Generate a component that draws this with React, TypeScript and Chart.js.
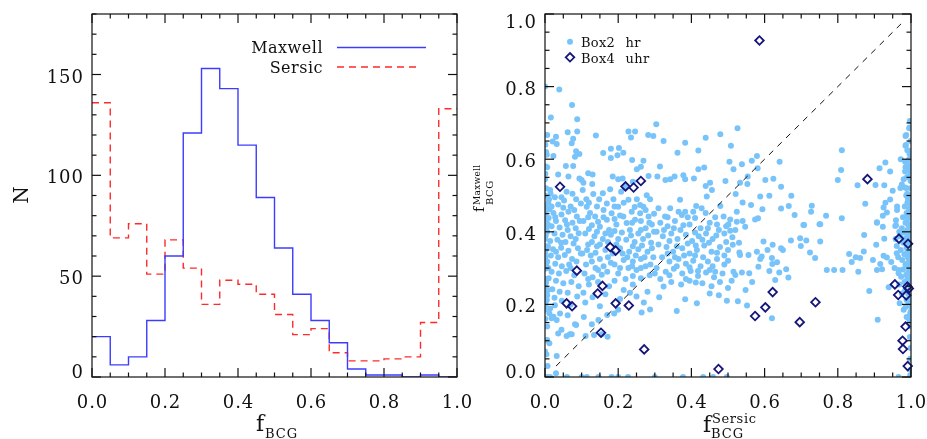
import React, { useEffect, useRef } from 'react';
import { Chart, registerables } from 'chart.js';

Chart.register(...registerables);

// ---------------- Left panel: histogram ----------------
const binEdges = [0, 0.05, 0.1, 0.15, 0.2, 0.25, 0.3, 0.35, 0.4, 0.45, 0.5, 0.55, 0.6, 0.65, 0.7, 0.75, 0.8, 0.85, 0.9, 0.95, 1.0];
const maxwellCounts = [20, 6, 10, 28, 60, 121, 153, 143, 115, 89, 64, 41, 28, 17, 4, 1, 1, 0, 1, 0];
const sersicCounts = [136, 69, 76, 51, 68, 54, 36, 48, 46, 41, 31, 21, 24, 12, 8, 8, 9, 10, 27, 133];

const leftXTicks = [0, 0.2, 0.4, 0.6, 0.8, 1.0];
const leftXLabels = ['0.0', '0.2', '0.4', '0.6', '0.8', '1.0'];
const leftYTicks = [0, 50, 100, 150];
const leftYLabels = ['0', '50', '100', '150'];
const leftYMax = 180;

// ---------------- Right panel: scatter ----------------
const rightXTicks = [0, 0.2, 0.4, 0.6, 0.8, 1.0];
const rightXLabels = ['0.0', '0.2', '0.4', '0.6', '0.8', '1.0'];
const rightYTicks = [0, 0.2, 0.4, 0.6, 0.8, 1.0];
const rightYLabels = ['0.0', '0.2', '0.4', '0.6', '0.8', '1.0'];

const oneToOne: [number, number][] = [[0.03, 0.03], [0.98, 0.98]];

const box2hrLeft: [number, number][] = [
  [0.000, 0.800], [0.039, 0.792], [0.074, 0.749], [0.016, 0.715], [0.088, 0.710],
  [0.006, 0.667], [0.030, 0.662], [0.062, 0.674], [0.088, 0.676], [0.077, 0.656],
  [0.021, 0.649], [0.032, 0.642], [0.073, 0.644], [0.005, 0.612], [0.023, 0.609],
  [0.085, 0.622], [0.094, 0.614], [0.082, 0.607], [0.006, 0.578], [0.057, 0.581],
  [0.077, 0.581], [0.036, 0.558], [0.064, 0.552], [0.094, 0.547], [0.000, 0.545],
  [0.014, 0.515], [0.027, 0.495], [0.011, 0.490], [0.059, 0.510], [0.052, 0.486],
  [0.000, 0.500], [0.018, 0.470], [0.036, 0.475], [0.070, 0.470], [0.085, 0.490],
  [0.002, 0.455], [0.023, 0.452], [0.045, 0.448], [0.064, 0.455], [0.087, 0.442],
  [0.010, 0.438], [0.030, 0.430], [0.055, 0.432], [0.075, 0.425], [0.095, 0.430],
  [0.000, 0.420], [0.018, 0.415], [0.040, 0.412], [0.062, 0.405], [0.084, 0.410],
  [0.006, 0.400], [0.026, 0.395], [0.048, 0.392], [0.070, 0.388], [0.092, 0.396],
  [0.000, 0.380], [0.014, 0.375], [0.034, 0.378], [0.056, 0.372], [0.078, 0.368],
  [0.008, 0.360], [0.022, 0.352], [0.044, 0.356], [0.064, 0.348], [0.090, 0.355],
  [0.000, 0.340], [0.016, 0.335], [0.036, 0.330], [0.054, 0.336], [0.074, 0.325],
  [0.006, 0.318], [0.028, 0.312], [0.046, 0.305], [0.066, 0.310], [0.086, 0.318],
  [0.000, 0.298], [0.018, 0.290], [0.038, 0.285], [0.058, 0.292], [0.080, 0.280],
  [0.010, 0.272], [0.030, 0.265], [0.050, 0.258], [0.072, 0.262], [0.092, 0.250],
  [0.000, 0.250], [0.020, 0.242], [0.040, 0.235], [0.062, 0.232], [0.088, 0.222],
  [0.006, 0.225], [0.026, 0.218], [0.046, 0.210], [0.005, 0.212], [0.027, 0.198],
  [0.014, 0.189], [0.041, 0.175], [0.032, 0.157], [0.018, 0.162], [0.006, 0.139],
  [0.000, 0.185], [0.012, 0.175], [0.070, 0.200], [0.085, 0.143], [0.062, 0.170],
  [0.002, 0.470], [0.004, 0.430], [0.001, 0.360], [0.003, 0.310], [0.002, 0.270],
  [0.004, 0.235], [0.001, 0.560], [0.003, 0.620], [0.002, 0.390], [0.001, 0.330],
  [0.012, 0.462], [0.050, 0.466], [0.080, 0.460], [0.028, 0.440], [0.060, 0.420],
  [0.044, 0.370], [0.084, 0.380], [0.030, 0.345], [0.098, 0.340], [0.070, 0.300],
  [0.015, 0.505], [0.045, 0.495], [0.075, 0.505], [0.098, 0.478],
  [0.001, 0.445], [0.003, 0.410], [0.002, 0.350], [0.001, 0.300], [0.003, 0.260],
  [0.002, 0.200], [0.001, 0.160], [0.003, 0.520], [0.002, 0.580], [0.001, 0.640],
  [0.008, 0.240], [0.009, 0.300], [0.008, 0.420], [0.009, 0.480],
];

const box2hrInner: [number, number][] = [
  [0.139, 0.665], [0.159, 0.617], [0.180, 0.629], [0.202, 0.631], [0.180, 0.603],
  [0.198, 0.611], [0.214, 0.618], [0.228, 0.676], [0.246, 0.676], [0.235, 0.660],
  [0.282, 0.667], [0.296, 0.664], [0.238, 0.598], [0.269, 0.596], [0.262, 0.579],
  [0.251, 0.572], [0.118, 0.561], [0.130, 0.558], [0.185, 0.552], [0.200, 0.545],
  [0.212, 0.547], [0.240, 0.538], [0.283, 0.554], [0.100, 0.543], [0.105, 0.535],
  [0.129, 0.532], [0.221, 0.526], [0.103, 0.515], [0.132, 0.504], [0.158, 0.506],
  [0.178, 0.517], [0.208, 0.510], [0.278, 0.501], [0.148, 0.490], [0.169, 0.478],
  [0.187, 0.490], [0.228, 0.488], [0.251, 0.490], [0.287, 0.490], [0.260, 0.474],
  [0.113, 0.490],
  [0.114, 0.469], [0.123, 0.452], [0.137, 0.442], [0.160, 0.460], [0.169, 0.433],
  [0.182, 0.451], [0.200, 0.469], [0.214, 0.442], [0.223, 0.424], [0.237, 0.455],
  [0.246, 0.433], [0.260, 0.451], [0.269, 0.469], [0.283, 0.442], [0.292, 0.420],
  [0.105, 0.430], [0.128, 0.418], [0.150, 0.414], [0.175, 0.405], [0.195, 0.420],
  [0.210, 0.398], [0.232, 0.405], [0.255, 0.395], [0.275, 0.410], [0.298, 0.400],
  [0.110, 0.395], [0.135, 0.388], [0.158, 0.380], [0.180, 0.392], [0.222, 0.378],
  [0.245, 0.372], [0.268, 0.380], [0.290, 0.370], [0.118, 0.365], [0.142, 0.360],
  [0.165, 0.350], [0.205, 0.355], [0.230, 0.345], [0.255, 0.352], [0.280, 0.345],
  [0.102, 0.340], [0.125, 0.335], [0.150, 0.325], [0.172, 0.330], [0.215, 0.322],
  [0.240, 0.318], [0.262, 0.325], [0.296, 0.330], [0.112, 0.310], [0.138, 0.300],
  [0.160, 0.305], [0.190, 0.310], [0.228, 0.300], [0.250, 0.295], [0.275, 0.305],
  [0.108, 0.285], [0.130, 0.275], [0.155, 0.282], [0.200, 0.285], [0.220, 0.270],
  [0.262, 0.272], [0.286, 0.280],
  [0.120, 0.255], [0.145, 0.262], [0.175, 0.250], [0.215, 0.240], [0.240, 0.255],
  [0.105, 0.232], [0.130, 0.220], [0.165, 0.228], [0.250, 0.222], [0.280, 0.235],
  [0.110, 0.205], [0.150, 0.195], [0.205, 0.215], [0.270, 0.205], [0.264, 0.178],
  [0.287, 0.186], [0.189, 0.175], [0.170, 0.171], [0.146, 0.157], [0.111, 0.113],
  [0.134, 0.116], [0.155, 0.118], [0.171, 0.111], [0.200, 0.185], [0.232, 0.232],
  [0.128, 0.145], [0.106, 0.165],
  [0.120, 0.480], [0.142, 0.470], [0.190, 0.470], [0.215, 0.480], [0.245, 0.468],
  [0.275, 0.460], [0.298, 0.450], [0.118, 0.440], [0.145, 0.428], [0.160, 0.440],
  [0.190, 0.435], [0.205, 0.445], [0.238, 0.425], [0.262, 0.430], [0.285, 0.425],
  [0.120, 0.408], [0.142, 0.400], [0.165, 0.395], [0.190, 0.402], [0.200, 0.380],
  [0.235, 0.390], [0.262, 0.405], [0.282, 0.390], [0.128, 0.372], [0.150, 0.365],
  [0.172, 0.372], [0.195, 0.365], [0.212, 0.340], [0.240, 0.360], [0.265, 0.362],
  [0.292, 0.355], [0.115, 0.350], [0.138, 0.342], [0.185, 0.340], [0.225, 0.330],
  [0.248, 0.335], [0.272, 0.330], [0.128, 0.318], [0.180, 0.315], [0.205, 0.300],
  [0.238, 0.305], [0.262, 0.300], [0.288, 0.310], [0.145, 0.295], [0.170, 0.290],
  [0.118, 0.270], [0.190, 0.265], [0.240, 0.278], [0.300, 0.285],
];

const box2hrCentre: [number, number][] = [
  [0.304, 0.696], [0.324, 0.650], [0.383, 0.645], [0.419, 0.624], [0.362, 0.618],
  [0.439, 0.659], [0.479, 0.669], [0.526, 0.685], [0.508, 0.637], [0.314, 0.580],
  [0.419, 0.572], [0.435, 0.577], [0.504, 0.593], [0.515, 0.572], [0.538, 0.586],
  [0.307, 0.552], [0.342, 0.545], [0.354, 0.552], [0.383, 0.545], [0.407, 0.547],
  [0.378, 0.556], [0.329, 0.543], [0.439, 0.526], [0.451, 0.535], [0.493, 0.540],
  [0.533, 0.535], [0.553, 0.532], [0.554, 0.552], [0.456, 0.515], [0.521, 0.504],
  [0.442, 0.497], [0.369, 0.488], [0.310, 0.465], [0.328, 0.442], [0.342, 0.465],
  [0.374, 0.446], [0.383, 0.455], [0.413, 0.471], [0.428, 0.465], [0.439, 0.452],
  [0.479, 0.471], [0.488, 0.442], [0.506, 0.434], [0.501, 0.420], [0.524, 0.455],
  [0.540, 0.481], [0.524, 0.428], [0.547, 0.414], [0.540, 0.430], [0.506, 0.403],
  [0.315, 0.425], [0.335, 0.415], [0.355, 0.430], [0.370, 0.405], [0.395, 0.420],
  [0.410, 0.438], [0.425, 0.410], [0.450, 0.425], [0.465, 0.440], [0.475, 0.405],
  [0.305, 0.400], [0.322, 0.388], [0.345, 0.395], [0.362, 0.380], [0.385, 0.392],
  [0.402, 0.375], [0.420, 0.388], [0.440, 0.395], [0.458, 0.380], [0.490, 0.395],
  [0.512, 0.385], [0.530, 0.370], [0.310, 0.365], [0.332, 0.358], [0.350, 0.345],
  [0.375, 0.355], [0.395, 0.340], [0.415, 0.350], [0.435, 0.362], [0.455, 0.345],
  [0.478, 0.358], [0.500, 0.350], [0.531, 0.343], [0.513, 0.364], [0.320, 0.330],
  [0.340, 0.318], [0.365, 0.325], [0.385, 0.312], [0.405, 0.320], [0.425, 0.305],
  [0.445, 0.318], [0.470, 0.325], [0.490, 0.310], [0.515, 0.290], [0.533, 0.336],
  [0.305, 0.300], [0.330, 0.290], [0.352, 0.298], [0.375, 0.285], [0.398, 0.292],
  [0.418, 0.278], [0.440, 0.288], [0.462, 0.275], [0.485, 0.285], [0.520, 0.281],
  [0.538, 0.288], [0.315, 0.270], [0.345, 0.262], [0.372, 0.255], [0.395, 0.265],
  [0.430, 0.258], [0.455, 0.250], [0.478, 0.262], [0.500, 0.245], [0.324, 0.249],
  [0.383, 0.214], [0.360, 0.182], [0.415, 0.203], [0.497, 0.210], [0.527, 0.209],
  [0.552, 0.197], [0.312, 0.220], [0.450, 0.230], [0.475, 0.225],
  [0.335, 0.440], [0.365, 0.455], [0.390, 0.440], [0.405, 0.455], [0.445, 0.410],
  [0.470, 0.420], [0.495, 0.415], [0.520, 0.405], [0.325, 0.405], [0.352, 0.410],
  [0.378, 0.418], [0.410, 0.398], [0.430, 0.378], [0.468, 0.390], [0.495, 0.372],
  [0.340, 0.375], [0.360, 0.360], [0.390, 0.368], [0.412, 0.362], [0.448, 0.370],
  [0.470, 0.342], [0.490, 0.335], [0.335, 0.340], [0.355, 0.330], [0.380, 0.335],
  [0.410, 0.335], [0.432, 0.330], [0.458, 0.305], [0.500, 0.320], [0.360, 0.305],
  [0.395, 0.302], [0.418, 0.292], [0.450, 0.295], [0.340, 0.280], [0.385, 0.270],
  [0.412, 0.260], [0.465, 0.290], [0.510, 0.265],
];

const box2hrRight: [number, number][] = [
  [0.579, 0.609], [0.565, 0.596], [0.581, 0.575], [0.641, 0.593], [0.602, 0.543],
  [0.624, 0.546], [0.645, 0.524], [0.588, 0.497], [0.613, 0.499], [0.673, 0.499],
  [0.563, 0.474], [0.594, 0.462], [0.645, 0.464], [0.666, 0.471], [0.682, 0.446],
  [0.729, 0.472], [0.727, 0.455], [0.768, 0.444], [0.706, 0.419], [0.750, 0.421],
  [0.574, 0.434], [0.582, 0.437], [0.811, 0.625], [0.809, 0.570], [0.800, 0.543],
  [0.854, 0.528], [0.875, 0.477], [0.811, 0.437], [0.903, 0.529], [0.927, 0.528],
  [0.914, 0.575], [0.930, 0.591], [0.943, 0.566], [0.930, 0.480], [0.943, 0.489],
  [0.925, 0.467], [0.934, 0.453], [0.923, 0.444], [0.907, 0.426], [0.923, 0.414],
  [0.597, 0.373], [0.622, 0.364], [0.608, 0.350], [0.592, 0.332], [0.588, 0.325],
  [0.620, 0.328], [0.634, 0.316], [0.621, 0.311], [0.583, 0.304], [0.613, 0.292],
  [0.640, 0.288], [0.659, 0.297], [0.665, 0.274], [0.629, 0.267], [0.645, 0.355],
  [0.650, 0.350], [0.672, 0.376], [0.697, 0.382], [0.714, 0.376], [0.699, 0.361],
  [0.724, 0.343], [0.738, 0.328], [0.752, 0.373], [0.708, 0.419], [0.752, 0.421],
  [0.770, 0.295], [0.790, 0.295], [0.813, 0.295], [0.831, 0.339], [0.849, 0.330],
  [0.861, 0.328], [0.871, 0.346], [0.838, 0.317], [0.856, 0.290], [0.872, 0.391],
  [0.886, 0.237], [0.896, 0.322], [0.907, 0.295], [0.916, 0.311], [0.921, 0.297],
  [0.905, 0.364], [0.925, 0.334], [0.934, 0.329], [0.946, 0.317], [0.939, 0.247],
  [0.909, 0.158], [0.907, 0.425], [0.927, 0.381], [0.558, 0.286], [0.620, 0.162],
  [0.556, 0.336], [0.579, 0.345], [0.566, 0.262], [0.548, 0.240],
];

const box2hrEdge: [number, number][] = [
  [0.996, 0.687], [0.985, 0.664], [0.995, 0.685], [0.987, 0.667], [0.986, 0.639],
  [0.985, 0.637], [0.995, 0.623], [0.996, 0.614], [0.990, 0.625], [0.993, 0.584],
  [0.985, 0.578], [0.984, 0.593], [0.989, 0.580], [0.995, 0.600], [0.994, 0.552],
  [0.984, 0.566], [0.989, 0.550], [0.984, 0.522], [0.971, 0.521], [0.987, 0.521],
  [0.975, 0.530], [0.990, 0.505], [0.987, 0.500], [0.950, 0.513], [0.959, 0.432],
  [0.959, 0.418], [0.957, 0.416], [0.961, 0.361], [0.961, 0.341], [0.966, 0.295],
  [0.966, 0.286], [0.969, 0.203], [0.985, 0.193], [0.995, 0.161],
  [0.992, 0.490], [0.998, 0.478], [0.983, 0.470], [0.995, 0.462], [0.988, 0.452],
  [0.999, 0.445], [0.978, 0.440], [0.992, 0.435], [0.985, 0.425], [0.997, 0.418],
  [0.975, 0.410], [0.990, 0.405], [0.982, 0.398], [0.998, 0.392], [0.970, 0.388],
  [0.986, 0.382], [0.994, 0.375], [0.979, 0.370], [0.999, 0.362], [0.988, 0.356],
  [0.972, 0.350], [0.995, 0.345], [0.982, 0.338], [0.991, 0.330], [0.976, 0.322],
  [0.998, 0.318], [0.985, 0.310], [0.993, 0.302], [0.978, 0.296], [0.999, 0.290],
  [0.987, 0.282], [0.973, 0.276], [0.995, 0.270], [0.982, 0.262], [0.991, 0.255],
  [0.999, 0.245], [0.984, 0.238], [0.975, 0.230], [0.996, 0.222], [0.988, 0.212],
  [0.993, 0.200], [0.980, 0.185], [0.998, 0.175], [0.988, 0.165], [0.999, 0.140],
  [0.997, 0.110], [0.999, 0.080], [0.998, 0.050], [0.999, 0.020], [0.962, 0.460],
  [0.968, 0.400], [0.965, 0.330], [0.968, 0.255], [0.955, 0.300], [0.958, 0.380],
  [0.962, 0.470], [0.980, 0.545], [0.972, 0.600], [0.999, 0.520], [0.999, 0.560],
  [0.999, 0.650], [0.999, 0.420], [0.999, 0.335], [0.999, 0.265], [0.999, 0.195],
  [0.997, 0.705], [0.999, 0.685], [0.998, 0.600], [0.996, 0.570], [0.999, 0.540],
  [0.997, 0.500], [0.999, 0.470], [0.996, 0.455], [0.999, 0.400], [0.997, 0.380],
  [0.999, 0.370], [0.996, 0.350], [0.999, 0.310], [0.997, 0.300], [0.999, 0.280],
  [0.996, 0.260], [0.999, 0.230], [0.997, 0.210], [0.999, 0.180], [0.996, 0.155],
  [0.990, 0.480], [0.992, 0.420], [0.990, 0.365], [0.992, 0.315], [0.990, 0.270],
  [0.992, 0.230], [0.990, 0.440], [0.993, 0.392], [0.990, 0.345], [0.993, 0.290],
];

const box2hrLow: [number, number][] = [
  [0.005, 0.000], [0.014, 0.000], [0.060, 0.000], [0.100, 0.000], [0.114, 0.000],
  [0.146, 0.000], [0.182, 0.000], [0.200, 0.000], [0.227, 0.000], [0.300, 0.000],
  [0.377, 0.000], [0.432, 0.000], [0.459, 0.000], [0.497, 0.000], [0.966, 0.000],
  [0.998, 0.005], [0.007, 0.030], [0.030, 0.010], [0.000, 0.070], [0.004, 0.063],
  [0.032, 0.058], [0.012, 0.093], [0.059, 0.113], [0.073, 0.118], [0.036, 0.120],
  [0.006, 0.102], [0.045, 0.130], [0.082, 0.145], [0.023, 0.166], [0.068, 0.118],
];

const box4uhr: [number, number][] = [
  [0.041, 0.524], [0.220, 0.525], [0.242, 0.522], [0.262, 0.540], [0.586, 0.927],
  [0.881, 0.545], [0.178, 0.358], [0.193, 0.348], [0.087, 0.293], [0.967, 0.381],
  [0.992, 0.367], [0.157, 0.251], [0.144, 0.230], [0.059, 0.203], [0.074, 0.195],
  [0.193, 0.203], [0.229, 0.197], [0.622, 0.234], [0.602, 0.192], [0.574, 0.168],
  [0.739, 0.206], [0.696, 0.151], [0.956, 0.255], [0.965, 0.226], [0.987, 0.225],
  [0.990, 0.249], [0.994, 0.244], [0.985, 0.139], [0.977, 0.100], [0.978, 0.077],
  [0.991, 0.030], [0.153, 0.122], [0.271, 0.076], [0.474, 0.022],
];

// ---------------- styling ----------------
const FONT = '"DejaVu Serif", serif';
const BLUE = '#3c3cff';
const RED = '#ff2a2a';
const LIGHT = '#78c4fa';
const NAVY = '#15157a';
const AXIS = '#111111';

function txt(ctx: CanvasRenderingContext2D, s: string, x: number, y: number, size: number, align: CanvasTextAlign, ls = 1, ws = 0) {
  ctx.font = `${size}px ${FONT}`;
  (ctx as any).letterSpacing = `${ls}px`;
  (ctx as any).wordSpacing = `${ws}px`;
  ctx.textAlign = align;
  ctx.textBaseline = 'alphabetic';
  ctx.fillStyle = AXIS;
  ctx.fillText(s, x, y);
}

function rangeStep(min: number, max: number, step: number) {
  const out: number[] = [];
  for (let v = min; v <= max + step * 1e-6; v += step) out.push(+v.toFixed(6));
  return out;
}

type AxisSpec = {
  xTicks: number[]; xLabels: string[]; xMinorStep: number;
  yTicks: number[]; yLabels: string[]; yMinorStep: number;
  extra: (ctx: CanvasRenderingContext2D, chart: any) => void;
};

function axesPlugin(id: string, spec: AxisSpec) {
  return {
    id,
    afterDraw(chart: any) {
      const { ctx, chartArea: a, scales } = chart;
      const xs = scales.x, ys = scales.y;
      ctx.save();
      ctx.strokeStyle = AXIS;
      ctx.lineWidth = 1.2;
      ctx.setLineDash([]);
      ctx.strokeRect(a.left, a.top, a.right - a.left, a.bottom - a.top);
      const line = (x1: number, y1: number, x2: number, y2: number) => {
        ctx.beginPath(); ctx.moveTo(x1, y1); ctx.lineTo(x2, y2); ctx.stroke();
      };
      const MAJ = 9, MIN = 4.5;
      for (const v of rangeStep(xs.min, xs.max, spec.xMinorStep)) {
        const p = xs.getPixelForValue(v);
        const major = spec.xTicks.some(t => Math.abs(t - v) < 1e-6);
        const L = major ? MAJ : MIN;
        line(p, a.bottom, p, a.bottom - L);
        line(p, a.top, p, a.top + L);
      }
      for (const v of rangeStep(ys.min, ys.max, spec.yMinorStep)) {
        const p = ys.getPixelForValue(v);
        const major = spec.yTicks.some(t => Math.abs(t - v) < 1e-6);
        const L = major ? MAJ : MIN;
        line(a.left, p, a.left + L, p);
        line(a.right, p, a.right - L, p);
      }
      spec.xTicks.forEach((v, i) => {
        txt(ctx, spec.xLabels[i], xs.getPixelForValue(v) + 0.5, a.bottom + 30.5, 18, 'center', 1);
      });
      spec.yTicks.forEach((v, i) => {
        const p = ys.getPixelForValue(v);
        const c = Math.min(Math.max(p + 1.5, a.top + 7.5), a.bottom - 5.5);
        txt(ctx, spec.yLabels[i], a.left - 8, c + 6.5, 18, 'right', 1);
      });
      spec.extra(ctx, chart);
      ctx.restore();
    },
  };
}

function diamond(ctx: CanvasRenderingContext2D, x: number, y: number, r: number) {
  ctx.beginPath();
  ctx.moveTo(x - r, y); ctx.lineTo(x, y - r); ctx.lineTo(x + r, y); ctx.lineTo(x, y + r);
  ctx.closePath();
  ctx.stroke();
}

export default function App() {
  const leftRef = useRef<HTMLCanvasElement>(null);
  const rightRef = useRef<HTMLCanvasElement>(null);

  useEffect(() => {
    const stepData = (counts: number[]) =>
      binEdges.map((e, i) => ({ x: e, y: counts[Math.min(i, counts.length - 1)] }));

    const leftExtra = (ctx: CanvasRenderingContext2D) => {
      // legend
      txt(ctx, 'Maxwell', 323, 53, 16, 'right', 0.5);
      txt(ctx, 'Sersic', 323, 72.5, 16, 'right', 0.5);
      ctx.lineWidth = 1.4;
      ctx.strokeStyle = BLUE;
      ctx.setLineDash([]);
      ctx.beginPath(); ctx.moveTo(337, 47.5); ctx.lineTo(426, 47.5); ctx.stroke();
      ctx.strokeStyle = RED;
      ctx.setLineDash([7, 5]);
      ctx.beginPath(); ctx.moveTo(337, 67); ctx.lineTo(421, 67); ctx.stroke();
      ctx.setLineDash([]);
      // y title
      ctx.save();
      ctx.translate(28, 195);
      ctx.rotate(-Math.PI / 2);
      txt(ctx, 'N', 0, 0, 20, 'center', 0);
      ctx.restore();
      // x title
      txt(ctx, 'f', 256, 431, 22, 'left', 0);
      txt(ctx, 'BCG', 265, 438, 13, 'left', 1);
    };

    const rightExtra = (ctx: CanvasRenderingContext2D) => {
      // legend
      ctx.fillStyle = LIGHT;
      ctx.beginPath(); ctx.arc(570, 41.7, 3, 0, Math.PI * 2); ctx.fill();
      txt(ctx, 'Box2 hr', 581, 46.5, 13, 'left', 0.3, 6);
      ctx.strokeStyle = NAVY;
      ctx.lineWidth = 1.8;
      diamond(ctx, 570, 57.3, 4.3);
      txt(ctx, 'Box4 uhr', 581, 63, 13, 'left', 0.3, 6);
      // x title
      txt(ctx, 'f', 703, 432, 22, 'left', 0);
      txt(ctx, 'Sersic', 712, 423, 13, 'left', 0.6);
      txt(ctx, 'BCG', 711, 438, 13, 'left', 1);
      // y title (rotated)
      ctx.save();
      ctx.translate(484, 212);
      ctx.rotate(-Math.PI / 2);
      txt(ctx, 'f', 0, 0, 14, 'left', 0);
      txt(ctx, 'Maxwell', 7, -4, 9, 'left', 0.3);
      txt(ctx, 'BCG', 7, 9, 10, 'left', 0.5);
      ctx.restore();
    };

    const left = new Chart(leftRef.current!, {
      type: 'line',
      data: {
        datasets: [
          {
            label: 'Maxwell',
            data: stepData(maxwellCounts),
            stepped: 'before',
            borderColor: BLUE,
            borderWidth: 1.4,
            pointRadius: 0,
            fill: false,
          },
          {
            label: 'Sersic',
            data: stepData(sersicCounts),
            stepped: 'before',
            borderColor: RED,
            borderWidth: 1.4,
            borderDash: [7, 5],
            pointRadius: 0,
            fill: false,
          },
        ],
      },
      options: {
        animation: false,
        responsive: false,
        devicePixelRatio: 1,
        layout: { padding: { left: 92, right: 470, top: 14, bottom: 62 } },
        plugins: { legend: { display: false }, tooltip: { enabled: false } },
        scales: {
          x: { type: 'linear', min: 0, max: 1, display: false },
          y: { type: 'linear', min: 0, max: leftYMax, display: false },
        },
      },
      plugins: [axesPlugin('leftAxes', {
        xTicks: leftXTicks, xLabels: leftXLabels, xMinorStep: 0.05,
        yTicks: leftYTicks, yLabels: leftYLabels, yMinorStep: 10,
        extra: leftExtra,
      })],
    } as any);

    const toXY = (arr: [number, number][]) => arr.map(([x, y]) => ({ x, y }));
    const hrAll = [...box2hrLeft, ...box2hrInner, ...box2hrCentre, ...box2hrRight, ...box2hrEdge, ...box2hrLow];

    const right = new Chart(rightRef.current!, {
      type: 'scatter',
      data: {
        datasets: [
          {
            label: 'Box4 uhr',
            data: toXY(box4uhr),
            pointStyle: 'rectRot',
            pointRadius: 4.3,
            borderColor: NAVY,
            borderWidth: 1.8,
            backgroundColor: 'rgba(0,0,0,0)',
            clip: false,
          },
          {
            type: 'line',
            label: 'one-to-one',
            data: toXY(oneToOne),
            borderColor: '#111',
            borderWidth: 1,
            borderDash: [6, 6],
            pointRadius: 0,
            fill: false,
          },
          {
            label: 'Box2 hr',
            data: toXY(hrAll),
            pointStyle: 'circle',
            pointRadius: 3,
            borderWidth: 0,
            backgroundColor: LIGHT,
            clip: 0,
          },
        ],
      },
      options: {
        animation: false,
        responsive: false,
        devicePixelRatio: 1,
        layout: { padding: { left: 545, right: 16, top: 14, bottom: 62 } },
        plugins: { legend: { display: false }, tooltip: { enabled: false } },
        scales: {
          x: { type: 'linear', min: 0, max: 1, display: false },
          y: { type: 'linear', min: 0, max: 1, display: false },
        },
      },
      plugins: [axesPlugin('rightAxes', {
        xTicks: rightXTicks, xLabels: rightXLabels, xMinorStep: 0.05,
        yTicks: rightYTicks, yLabels: rightYLabels, yMinorStep: 0.05,
        extra: rightExtra,
      })],
    } as any);

    return () => { left.destroy(); right.destroy(); };
  }, []);

  return (
    <div style={{ position: 'absolute', left: 0, top: 0, width: 927, height: 439, background: '#fff' }}>
      <canvas ref={leftRef} width={927} height={439} style={{ position: 'absolute', left: 0, top: 0 }} />
      <canvas ref={rightRef} width={927} height={439} style={{ position: 'absolute', left: 0, top: 0 }} />
    </div>
  );
}
